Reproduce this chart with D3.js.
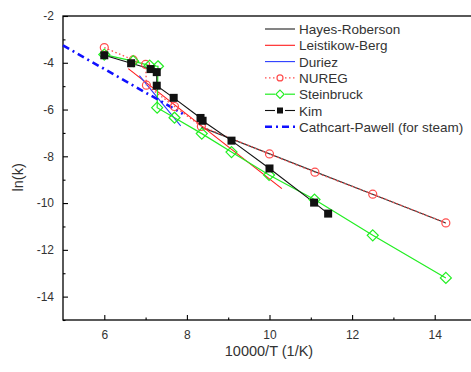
<!DOCTYPE html>
<html>
<head>
<meta charset="utf-8">
<script src="https://cdn.jsdelivr.net/npm/d3@7"></script>
<style>
  body { margin: 0; background: #fff; }
  text { font-family: "Liberation Sans", Arial, sans-serif; }
</style>
</head>
<body>
<div id="chart"></div>
<script>
// series data (x = 10000/T, y = ln(k))
const hayesX = [8.35, 14.27];
const hayesY = [-6.75, -10.85];
const leistikowX = [6.58, 10.3];
const leistikowY = [-4.25, -9.38];
const duriezX = [6.85, 7.85];
const duriezY = [-4.55, -6.7];
const nuregX = [6.0, 6.7, 7.0, 7.02, 7.7, 8.35, 10.0, 11.1, 12.5, 14.27];
const nuregY = [-3.35, -3.88, -4.07, -4.96, -5.87, -6.72, -7.9, -8.68, -9.62, -10.85];
const steinX = [6.0, 6.7, 7.1, 7.3, 7.28, 7.7, 8.36, 9.08, 9.99, 11.09, 12.5, 14.27];
const steinY = [-3.65, -3.93, -4.12, -4.15, -5.92, -6.35, -7.03, -7.82, -8.8, -9.85, -11.38, -13.2];
const kimX = [6.0, 6.65, 7.12, 7.27, 7.27, 7.68, 8.33, 8.38, 9.08, 10.0, 11.08, 11.42];
const kimY = [-3.68, -4.02, -4.27, -4.4, -4.98, -5.5, -6.36, -6.48, -7.33, -8.52, -9.98, -10.45];
const cathcartX = [5.0, 7.9];
const cathcartY = [-3.26, -6.18];

const xTicks = [6, 8, 10, 12, 14];
const yTicks = [-2, -4, -6, -8, -10, -12, -14];
const legendNames = ["Hayes-Roberson", "Leistikow-Berg", "Duriez", "NUREG", "Steinbruck", "Kim", "Cathcart-Pawell (for steam)"];

const width = 471;
const height = 372;
const margin = { top: 16, right: -5, bottom: 52, left: 63 };

const svg = d3.select("#chart")
    .append("svg")
    .attr("width", width)
    .attr("height", height);

const x = d3.scaleLinear()
    .domain([5, 15])
    .range([margin.left, width - margin.right]);
const y = d3.scaleLinear()
    .domain([-15, -2])
    .range([height - margin.bottom, margin.top]);

const zip = (xs, ys) => xs.map((v, i) => [v, ys[i]]);
const line = d3.line().x(d => x(d[0])).y(d => y(d[1]));

// series styles
const series = [
    { name: legendNames[0], pts: zip(hayesX, hayesY), color: "#333", w: 1.2 },
    { name: legendNames[1], pts: zip(leistikowX, leistikowY), color: "#ff1a1a", w: 1.1 },
    { name: legendNames[2], pts: zip(duriezX, duriezY), color: "#2a3cff", w: 1.1 },
    { name: legendNames[3], pts: zip(nuregX, nuregY), color: "#ff4d4d", w: 1.3, dash: "1.5,2.5", marker: "circle" },
    { name: legendNames[4], pts: zip(steinX, steinY), color: "#22ee22", w: 1.2, marker: "diamond" },
    { name: legendNames[5], pts: zip(kimX, kimY), color: "#111", w: 1.1, marker: "square" },
    { name: legendNames[6], pts: zip(cathcartX, cathcartY), color: "#1010ff", w: 2.6, dash: "7,4,2,4" }
];

// frame
const plot = svg.append("g");
plot.append("rect")
    .attr("x", x(5))
    .attr("y", y(-2))
    .attr("width", x(15) - x(5))
    .attr("height", y(-15) - y(-2))
    .attr("fill", "none")
    .attr("stroke", "#000")
    .attr("stroke-width", 1.3);

// ticks point inside the plot
const xAxis = svg.append("g")
    .attr("transform", "translate(0," + y(-15) + ")")
    .call(d3.axisBottom(x).tickValues(xTicks).tickSize(-5).tickPadding(10).tickFormat(d3.format("d")));
xAxis.select(".domain").remove();
svg.append("g")
    .attr("transform", "translate(0," + y(-15) + ")")
    .call(d3.axisBottom(x).tickValues([7, 9, 11, 13]).tickSize(-2.5).tickFormat(""))
    .select(".domain").remove();

const yAxis = svg.append("g")
    .attr("transform", "translate(" + x(5) + ",0)")
    .call(d3.axisLeft(y).tickValues(yTicks).tickSize(-5).tickPadding(9).tickFormat(d => d3.format("d")(d).replace("−", "-")));
yAxis.select(".domain").remove();
svg.append("g")
    .attr("transform", "translate(" + x(5) + ",0)")
    .call(d3.axisLeft(y).tickValues([-3, -5, -7, -9, -11, -13, -15]).tickSize(-2.5).tickFormat(""))
    .select(".domain").remove();

svg.selectAll(".tick line").attr("stroke", "#000").attr("stroke-width", 1.1);
svg.selectAll(".tick text")
    .attr("fill", "#333")
    .style("font-size", "12px")
    .style("font-family", "Liberation Sans, Arial, sans-serif");

// axis titles
svg.append("text")
    .attr("x", 269)
    .attr("y", 356)
    .attr("text-anchor", "middle")
    .attr("fill", "#333")
    .style("font-size", "14.5px")
    .text("10000/T (1/K)");
svg.append("text")
    .attr("transform", "translate(23," + y(-8.9) + ") rotate(-90)")
    .attr("text-anchor", "middle")
    .attr("fill", "#333")
    .style("font-size", "14.5px")
    .text("ln(k)");

// lines
const lines = svg.append("g");
series.forEach(s => {
    lines.append("path")
        .attr("d", line(s.pts))
        .attr("fill", "none")
        .attr("stroke", s.color)
        .attr("stroke-width", s.w)
        .attr("stroke-dasharray", s.dash || null);
});

// markers
function drawMarker(g, kind, cx, cy, color, size) {
    if (kind === "circle") {
        g.append("circle").attr("cx", cx).attr("cy", cy).attr("r", 4 * size)
            .attr("fill", "none").attr("stroke", color).attr("stroke-width", 1.2);
    } else if (kind === "diamond") {
        const r = 5.5 * size;
        g.append("path")
            .attr("d", `M${cx},${cy - r}L${cx + r},${cy}L${cx},${cy + r}L${cx - r},${cy}Z`)
            .attr("fill", "#fff").attr("fill-opacity", 0).attr("stroke", color).attr("stroke-width", 1.2);
    } else if (kind === "square") {
        const r = 4 * size;
        g.append("rect").attr("x", cx - r).attr("y", cy - r).attr("width", 2 * r).attr("height", 2 * r)
            .attr("fill", color);
    }
}
const marks = svg.append("g");
series.filter(s => s.marker).forEach(s => {
    s.pts.forEach(p => drawMarker(marks, s.marker, x(p[0]), y(p[1]), s.color, 1));
});

// legend
const legend = svg.append("g");
const legendY = d3.scaleBand()
    .domain(legendNames)
    .range([21, 21 + 16.3 * legendNames.length]);
series.forEach(s => {
    const ly = legendY(s.name) + 8;
    legend.append("line")
        .attr("x1", 265).attr("x2", 295)
        .attr("y1", ly).attr("y2", ly)
        .attr("stroke", s.color)
        .attr("stroke-width", s.w)
        .attr("stroke-dasharray", s.dash || null);
    if (s.marker) {
        // white patch behind the marker, like the original legend
        legend.append("rect").attr("x", 275).attr("y", ly - 4).attr("width", 10).attr("height", 8).attr("fill", "#fff");
        drawMarker(legend, s.marker, 280, ly, s.color, 0.75);
    }
    legend.append("text")
        .attr("x", 299)
        .attr("y", ly + 5)
        .attr("fill", "#333")
        .style("font-size", "13.5px")
        .text(s.name);
});
</script>
</body>
</html>
